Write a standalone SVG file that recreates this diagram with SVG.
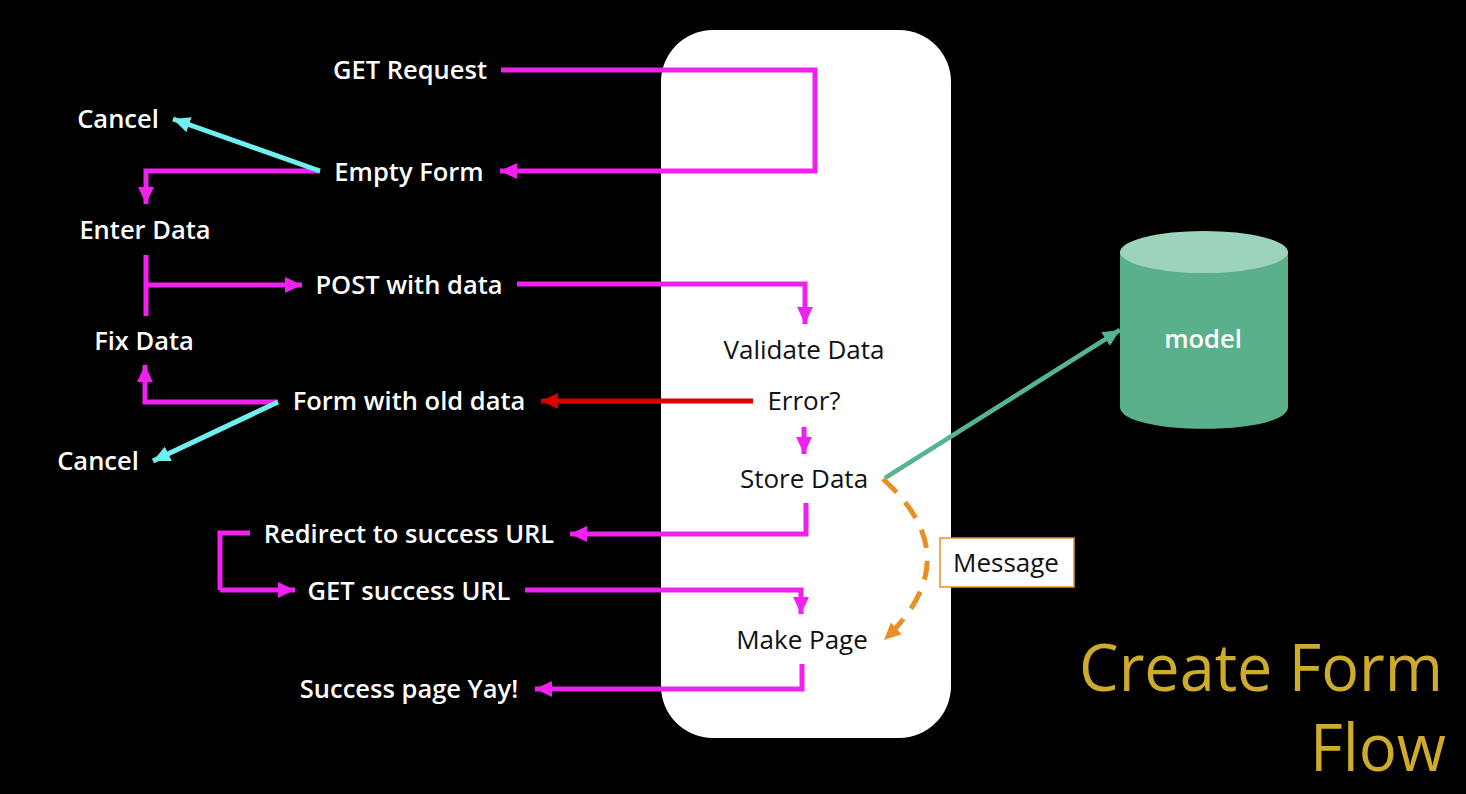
<svg xmlns="http://www.w3.org/2000/svg" width="1466" height="794" viewBox="0 0 1466 794">
<defs>
<marker id="mp" markerUnits="userSpaceOnUse" markerWidth="18" markerHeight="16" refX="17" refY="8" orient="auto"><path d="M0 0L17 8L0 16Z" fill="#f020f0"/></marker>
<marker id="mc" markerUnits="userSpaceOnUse" markerWidth="18" markerHeight="16" refX="17" refY="8" orient="auto"><path d="M0 0L17 8L0 16Z" fill="#6ff0f0"/></marker>
<marker id="mr" markerUnits="userSpaceOnUse" markerWidth="18" markerHeight="16" refX="17" refY="8" orient="auto"><path d="M0 0L17 8L0 16Z" fill="#d90000"/></marker>
<marker id="mg" markerUnits="userSpaceOnUse" markerWidth="18" markerHeight="16" refX="17" refY="8" orient="auto"><path d="M0 0L17 8L0 16Z" fill="#55b592"/></marker>
<marker id="mo" markerUnits="userSpaceOnUse" markerWidth="18" markerHeight="16" refX="17" refY="8" orient="auto"><path d="M0 0L17 8L0 16Z" fill="#e88f26"/></marker>
</defs>
<style>
text{font-family:"Open Sans","Liberation Sans",sans-serif;font-size:25.5px;text-anchor:middle}
.w{fill:#fff;font-weight:600}
.k{fill:#111}
.t{font-size:66px;text-anchor:end;fill:#cfab2c;font-weight:500}
.p{fill:none;stroke:#f020f0;stroke-width:5;marker-end:url(#mp)}
.q{fill:none;stroke:#f020f0;stroke-width:5}
.c{fill:none;stroke:#6ff0f0;stroke-width:5;marker-end:url(#mc)}
</style>
<rect width="1466" height="794" fill="#000"/>
<rect id="server" x="661" y="30" width="290" height="708" rx="52" fill="#fff"/>
<g id="connectors">
<path class="p" d="M501 70H815V171H500"/>
<path class="p" d="M320 171H146V204"/>
<path class="c" d="M320 171L173 119"/>
<path class="q" d="M146 255V316"/>
<path class="p" d="M146 285H302"/>
<path class="p" d="M517 284H805V324"/>
<path class="p" d="M278 402H145V365"/>
<path class="c" d="M278 402L153 461"/>
<path fill="none" stroke="#d90000" stroke-width="5" marker-end="url(#mr)" d="M753 401H541"/>
<path class="p" d="M804 427V454"/>
<path class="p" d="M806 503V534H570"/>
<path class="q" d="M250 533H220V590"/>
<path class="p" d="M220 590H295"/>
<path class="p" d="M525 590H801V614"/>
<path class="p" d="M802 664V689H535"/>
<path fill="none" stroke="#55b592" stroke-width="4.5" marker-end="url(#mg)" d="M885 478L1120 330"/>
<path fill="none" stroke="#e88f26" stroke-width="5" stroke-dasharray="19 13" marker-end="url(#mo)" d="M883 479Q971 558 884 640"/>
</g>
<g id="model">
<path d="M1120 252V407C1120 436 1288 436 1288 407V252Z" fill="#5bb08c"/>
<ellipse cx="1204" cy="252" rx="84" ry="21" fill="#9dd3bb"/>
<text class="w" x="1203" y="348">model</text>
</g>
<g id="get-request"><text class="w" x="410" y="79">GET Request</text></g>
<g id="cancel-1"><text class="w" x="118" y="128">Cancel</text></g>
<g id="empty-form"><text class="w" x="409" y="181">Empty Form</text></g>
<g id="enter-data"><text class="w" x="145" y="239">Enter Data</text></g>
<g id="post-with-data"><text class="w" x="409" y="294">POST with data</text></g>
<g id="fix-data"><text class="w" x="144" y="350">Fix Data</text></g>
<g id="form-with-old-data"><text class="w" x="409" y="410">Form with old data</text></g>
<g id="cancel-2"><text class="w" x="98" y="470">Cancel</text></g>
<g id="redirect"><text class="w" x="409" y="543">Redirect to success URL</text></g>
<g id="get-success"><text class="w" x="409" y="600">GET success URL</text></g>
<g id="success-page"><text class="w" x="409" y="698">Success page Yay!</text></g>
<g id="validate-data"><text class="k" x="804" y="359" style="font-size:26px">Validate Data</text></g>
<g id="error"><text class="k" x="804" y="410" style="font-size:26px">Error?</text></g>
<g id="store-data"><text class="k" x="804" y="488" style="font-size:26px">Store Data</text></g>
<g id="make-page"><text class="k" x="802" y="649" style="font-size:26px">Make Page</text></g>
<g id="message"><rect x="940" y="538" width="134" height="49" fill="#fff" stroke="#e88f26" stroke-width="1.5"/><text class="k" x="1006" y="572" style="font-size:26px">Message</text></g>
<g id="title"><text class="t" x="1443" y="691" textLength="364" lengthAdjust="spacingAndGlyphs">Create Form</text><text class="t" x="1446" y="771" textLength="136" lengthAdjust="spacingAndGlyphs">Flow</text></g>
</svg>
